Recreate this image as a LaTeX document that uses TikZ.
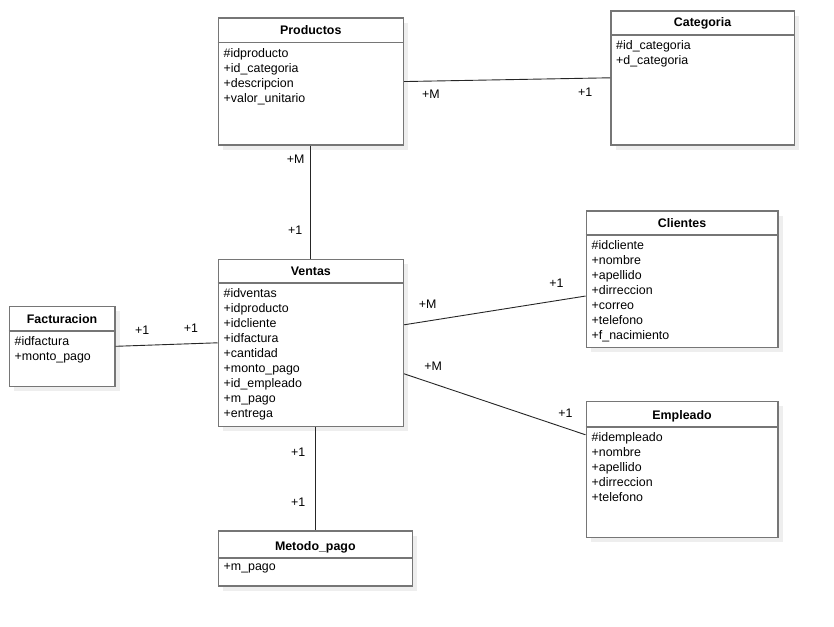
\documentclass[tikz,border=0pt]{standalone}
\usepackage{fontspec}
\setmainfont{Liberation Sans}
\usetikzlibrary{shadows}
\definecolor{boxgray}{HTML}{767676}
\definecolor{shadegray}{HTML}{EEEEEE}

\begin{document}
\begin{tikzpicture}[x=1pt,y=-1pt,font=\fontsize{12.4}{15}\selectfont,
    cls/.style={draw=boxgray,line width=1.6pt,fill=white,anchor=north west,inner sep=0pt,
      drop shadow={shadow xshift=5pt,shadow yshift=-5pt,fill=shadegray,opacity=1}},
    ttl/.style={anchor=base,inner sep=0pt,font=\fontsize{12.4}{15}\selectfont\bfseries},
    att/.style={anchor=north west,align=left,inner sep=0pt},
    sep/.style={draw=boxgray,line width=1.4pt},
    rel/.style={draw=black!85,line width=0.9pt},
    mult/.style={inner sep=0pt}]
  \useasboundingbox (0,0) rectangle (834,626);

  \node[cls,minimum width=185,minimum height=126.5] (prod) at (217.5,17.5) {};
  \node[ttl] (prodt) at (prod.north |- 0,34.7) {Productos};
  \draw[sep] (prod.west |- 0,42.7) -- (prod.east |- 0,42.7);
  \node[att] (proda) at (223.5,48.2) {\#idproducto\\+id\_categoria\\+descripcion\\+valor\_unitario};

  \node[cls,minimum width=183.5,minimum height=134] (cat) at (610,10) {};
  \node[ttl] (catt) at (cat.north |- 0,27) {Categoria};
  \draw[sep] (cat.west |- 0,35) -- (cat.east |- 0,35);
  \node[att] (cata) at (616,40.5) {\#id\_categoria\\+d\_categoria};

  \node[cls,minimum width=185,minimum height=167] (vent) at (217.5,258.5) {};
  \node[ttl] (ventt) at (vent.north |- 0,275) {Ventas};
  \draw[sep] (vent.west |- 0,283) -- (vent.east |- 0,283);
  \node[att] (venta) at (223.5,288.5) {\#idventas\\+idproducto\\+idcliente\\+idfactura\\+cantidad\\+monto\_pago\\+id\_empleado\\+m\_pago\\+entrega};

  \node[cls,minimum width=105.5,minimum height=80] (fact) at (8.5,305.5) {};
  \node[ttl] (factt) at (fact.north |- 0,323) {Facturacion};
  \draw[sep] (fact.west |- 0,331) -- (fact.east |- 0,331);
  \node[att] (facta) at (14.5,336.5) {\#idfactura\\+monto\_pago};

  \node[cls,minimum width=191.5,minimum height=136.5] (cli) at (585.5,210) {};
  \node[ttl] (clit) at (cli.north |- 0,227) {Clientes};
  \draw[sep] (cli.west |- 0,235) -- (cli.east |- 0,235);
  \node[att] (clia) at (591.5,240.5) {\#idcliente\\+nombre\\+apellido\\+dirreccion\\+correo\\+telefono\\+f\_nacimiento};

  \node[cls,minimum width=191.5,minimum height=136] (emp) at (585.5,400.5) {};
  \node[ttl] (empt) at (emp.north |- 0,419) {Empleado};
  \draw[sep] (emp.west |- 0,427) -- (emp.east |- 0,427);
  \node[att] (empa) at (591.5,432.5) {\#idempleado\\+nombre\\+apellido\\+dirreccion\\+telefono};

  \node[cls,minimum width=194,minimum height=55] (met) at (217.5,530) {};
  \node[ttl] (mett) at (met.north |- 0,550) {Metodo\_pago};
  \draw[sep] (met.west |- 0,558) -- (met.east |- 0,558);
  \node[att] (meta) at (223.5,563.5) {+m\_pago};

  \path[rel] (prod.east) edge node[mult,pos=0.13,below=8pt] (m1) {+M} node[mult,pos=0.88,below=9pt] (m2) {+1} (cat.west);
  \path[rel] (prod.south) edge node[mult,pos=0.12,left=6pt] (m3) {+M} node[mult,pos=0.75,left=8pt] (m4) {+1} (vent.north);
  \path[rel] (fact.east) edge node[mult,pos=0.26,above=10.5pt] (m5) {+1} node[mult,pos=0.74,above=10.5pt] (m6) {+1} (vent.west);
  \path[rel] ([yshift=18pt]vent.east) edge node[mult,pos=0.13,above=12.5pt] (m7) {+M} node[mult,pos=0.84,above=13pt] (m8) {+1} ([yshift=-17pt]cli.west);
  \path[rel] ([yshift=-31pt]vent.east) edge node[mult,pos=0.16,above=12.3pt] (m9) {+M} node[mult,pos=0.89,above=10.5pt] (m10) {+1} ([yshift=34.5pt]emp.west);
  \path[rel] (vent.south -| met.north) edge node[mult,pos=0.24,left=9.7pt] (m11) {+1} node[mult,pos=0.73,left=9.7pt] (m12) {+1} (met.north);
\end{tikzpicture}
\end{document}
